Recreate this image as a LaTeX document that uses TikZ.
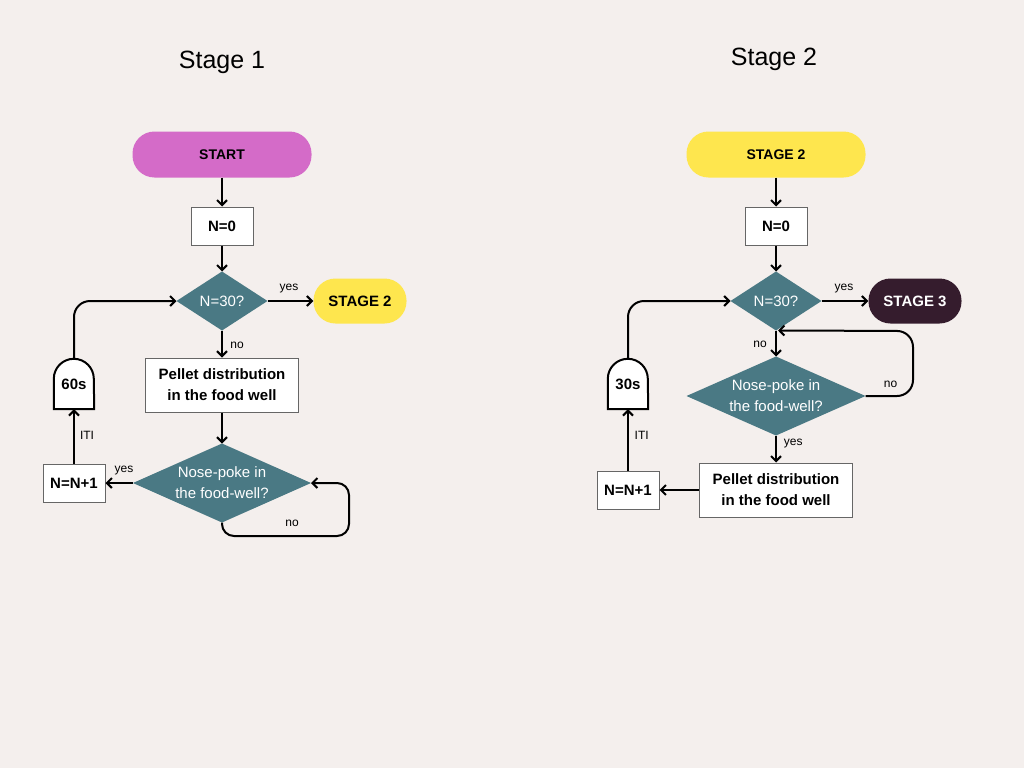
\documentclass[tikz,border=0pt]{standalone}
\usepackage{fontspec}
\setmainfont{Liberation Sans}
\usetikzlibrary{arrows.meta,shapes.geometric,backgrounds}
\definecolor{bgc}{HTML}{F4EFED}
\definecolor{dteal}{HTML}{4A7984}
\definecolor{pinkc}{HTML}{D46BC8}
\definecolor{yellowc}{HTML}{FEE64E}
\definecolor{darkc}{HTML}{351C2D}
\begin{document}
\begin{tikzpicture}[x=1pt,y=-1pt,
  pill/.style={rounded corners=22pt, minimum height=46pt, inner sep=0pt, font=\fontsize{14}{16}\selectfont\bfseries},
  box/.style={draw=black!60, fill=white, line width=1pt, inner sep=0pt, align=center, font=\fontsize{15}{21}\selectfont\bfseries},
  dec/.style={diamond, fill=dteal, text=white, inner sep=0pt, outer sep=0pt, align=center, font=\fontsize{15}{21}\selectfont},
  timer/.style={inner sep=0pt, minimum width=40pt, minimum height=50pt, font=\fontsize{15}{18}\selectfont\bfseries},
  timerline/.style={draw=black, fill=white, line width=2pt},
  arr/.style={-{Straight Barb[length=5pt,width=10pt]}, line width=2pt},
  lbl/.style={font=\fontsize{12}{14}\selectfont, inner sep=0pt},
  title/.style={font=\fontsize{25}{28}\selectfont}]
\begin{scope}[on background layer]
\fill[bgc] (0,0) rectangle (1024,768);
\end{scope}
\useasboundingbox (0,0) rectangle (1024,768);

% ---------- Stage 1 ----------
\node[title] (ttl1) at (222,62) {Stage 1};
\node[pill, fill=pinkc, minimum width=179pt] (start) at (222,154.5) {START};
\node[box, minimum width=62pt, minimum height=38pt] (n0a) at (222,226) {N=0};
\node[dec, aspect=1.54, minimum width=91pt, minimum height=59pt] (d1a) at (222,301) {N=30?};
\node[pill, fill=yellowc, minimum width=93pt, minimum height=45pt, font=\fontsize{15}{17}\selectfont\bfseries] (s2a) at (360,301) {STAGE 2};
\node[box, minimum width=153pt, minimum height=54pt] (pa) at (222,385) {Pellet distribution\\in the food well};
\node[dec, aspect=2.28, minimum width=178pt, minimum height=79pt] (d2a) at (222,483) {Nose-poke in\\the food-well?};
\node[box, minimum width=62pt, minimum height=38pt] (inca) at (74,483) {N=N+1};
\node[timer] (ta) at (74,384) {60s};
\begin{scope}[on background layer]
\draw[timerline] (ta.south west) -- ([yshift=-20pt]ta.north west) arc[start angle=180, end angle=0, radius=20pt] -- (ta.south east) -- cycle;
\end{scope}
\coordinate (la) at (349,536);

\draw[arr] (start) -- (n0a);
\draw[arr] (n0a) -- (d1a.north);
\draw[arr] (d1a.east) -- (s2a.west);
\draw[arr] (d1a.south) -- (pa.north);
\draw[arr] (pa.south) -- (d2a.north);
\draw[arr] (d2a.west) -- (inca.east);
\draw[arr] (inca.north) -- (ta.south);
\draw[arr, rounded corners=16pt] (ta.north) |- (d1a.west);
\draw[arr, rounded corners=12pt] (d2a.south) |- (la) |- (d2a.east);
\node[lbl] (ya1) at (289,289) {yes};
\node[lbl] (na1) at (237,345) {no};
\node[lbl] (ya2) at (124,471) {yes};
\node[lbl] (ia) at (87,435.7) {ITI};
\node[lbl] (na2) at (292,523) {no};

% ---------- Stage 2 ----------
\node[title] (ttl2) at (774,59) {Stage 2};
\node[pill, fill=yellowc, minimum width=179pt] (s2b) at (776,154.5) {STAGE 2};
\node[box, minimum width=62pt, minimum height=38pt] (n0b) at (776,226) {N=0};
\node[dec, aspect=1.54, minimum width=91pt, minimum height=59pt] (d1b) at (776,301) {N=30?};
\node[pill, fill=darkc, text=white, minimum width=93pt, minimum height=45pt, font=\fontsize{15}{17}\selectfont\bfseries] (s3) at (915,301) {STAGE 3};
\node[dec, aspect=2.28, minimum width=179pt, minimum height=79pt] (d2b) at (776,396) {Nose-poke in\\the food-well?};
\node[box, minimum width=153pt, minimum height=54pt] (pb) at (776,490) {Pellet distribution\\in the food well};
\node[box, minimum width=62pt, minimum height=38pt] (incb) at (628,490) {N=N+1};
\node[timer] (tb) at (628,384) {30s};
\begin{scope}[on background layer]
\draw[timerline] (tb.south west) -- ([yshift=-20pt]tb.north west) arc[start angle=180, end angle=0, radius=20pt] -- (tb.south east) -- cycle;
\end{scope}
\coordinate (lb) at (913,331);

\draw[arr] (s2b) -- (n0b);
\draw[arr] (n0b) -- (d1b.north);
\draw[arr] (d1b.east) -- (s3.west);
\draw[arr] (d1b.south) -- (d2b.north);
\draw[arr] (d2b.south) -- (pb.north);
\draw[arr] (pb.west) -- (incb.east);
\draw[arr] (incb.north) -- (tb.south);
\draw[arr, rounded corners=16pt] (tb.north) |- (d1b.west);
\draw[arr, rounded corners=16pt] (d2b.east) -| (lb) -- ([xshift=2pt]d1b.south);
\node[lbl] (yb1) at (844,289) {yes};
\node[lbl] (nb1) at (760,344) {no};
\node[lbl] (nb2) at (890.5,384.3) {no};
\node[lbl] (yb2) at (793.3,444) {yes};
\node[lbl] (ib) at (641.7,435.7) {ITI};
\end{tikzpicture}
\end{document}
